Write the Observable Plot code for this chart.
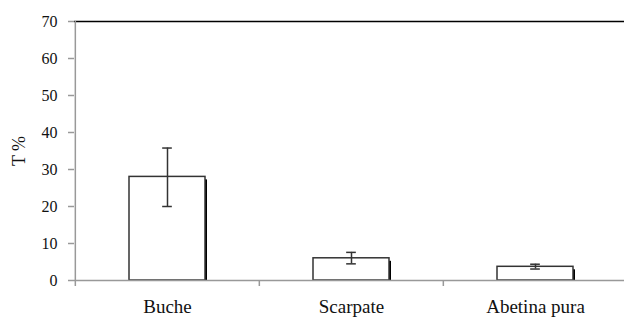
<!DOCTYPE html>
<html>
<head>
<meta charset="utf-8">
<script src="https://cdn.jsdelivr.net/npm/d3@7"></script>
<script src="https://cdn.jsdelivr.net/npm/@observablehq/plot@0.6"></script>
<style>
  html, body { margin: 0; padding: 0; background: #fff; }
  #chart svg { display: block; }
</style>
</head>
<body>
<div id="chart"></div>
<script>
const categories = ["Buche", "Scarpate", "Abetina pura"];
const means = [28, 6, 3.7];
const errLow = [20, 4.5, 3.1];
const errHigh = [35.8, 7.6, 4.4];
const yTicks = [0, 10, 20, 30, 40, 50, 60, 70];
const yLabel = "T %";

const data = categories.map((c, i) => ({cat: c, v: means[i], lo: errLow[i], hi: errHigh[i]}));

const font = "'Liberation Serif', 'Times New Roman', serif";
const barInset = 54;
const halfBand = (627 - 74) / categories.length / 2;

const chart = Plot.plot({
  width: 624,
  height: 320,
  marginLeft: 74,
  marginRight: 0,
  marginTop: 21,
  marginBottom: 40,
  style: {fontFamily: font, fontSize: "16px", background: "#fff", color: "#111"},
  x: {type: "band", domain: categories, range: [74, 627], padding: 0, label: null},
  y: {domain: [0, 70], label: null},
  marks: [
    Plot.barY(data, {x: "cat", y: "v", fill: "#000", dx: 2, insetTop: 3, insetLeft: barInset, insetRight: barInset}),
    Plot.barY(data, {x: "cat", y: "v", fill: "#fff", stroke: "#333", strokeWidth: 1.5, insetLeft: barInset, insetRight: barInset}),
    Plot.ruleX(data, {x: "cat", y1: "lo", y2: "hi", stroke: "#333", strokeWidth: 1.5}),
    Plot.tickY(data, {x: "cat", y: "lo", stroke: "#333", strokeWidth: 1.5, insetLeft: halfBand - 5, insetRight: halfBand - 5}),
    Plot.tickY(data, {x: "cat", y: "hi", stroke: "#333", strokeWidth: 1.5, insetLeft: halfBand - 5, insetRight: halfBand - 5}),
    Plot.ruleY([0], {stroke: "#999", strokeWidth: 1.5}),
    Plot.ruleY([70], {stroke: "#000", strokeWidth: 1.5}),
    Plot.ruleX([categories[0]], {x: d => d, dx: -halfBand, y1: 0, y2: 70, stroke: "#999", strokeWidth: 1.5}),
    Plot.axisY({ticks: yTicks, tickSize: 6, tickPadding: 11, stroke: "#999", strokeWidth: 1.5, fontSize: "16px", letterSpacing: "1px", fill: "#111",
      label: null}),
    Plot.text([yLabel], {frameAnchor: "left", textAnchor: "middle", dx: -55, rotate: -90, fontSize: "18px", letterSpacing: "1.5px", fill: "#111"}),
    Plot.axisX({tickSize: 6, tickFormat: () => "", dx: -halfBand, stroke: "#999", strokeWidth: 1.5}),
    Plot.axisX({tickSize: 0, tickPadding: 19, fontSize: "19px", letterSpacing: "1.6px", fill: "#111", label: null})
  ]
});
document.getElementById("chart").appendChild(chart);
</script>
</body>
</html>
